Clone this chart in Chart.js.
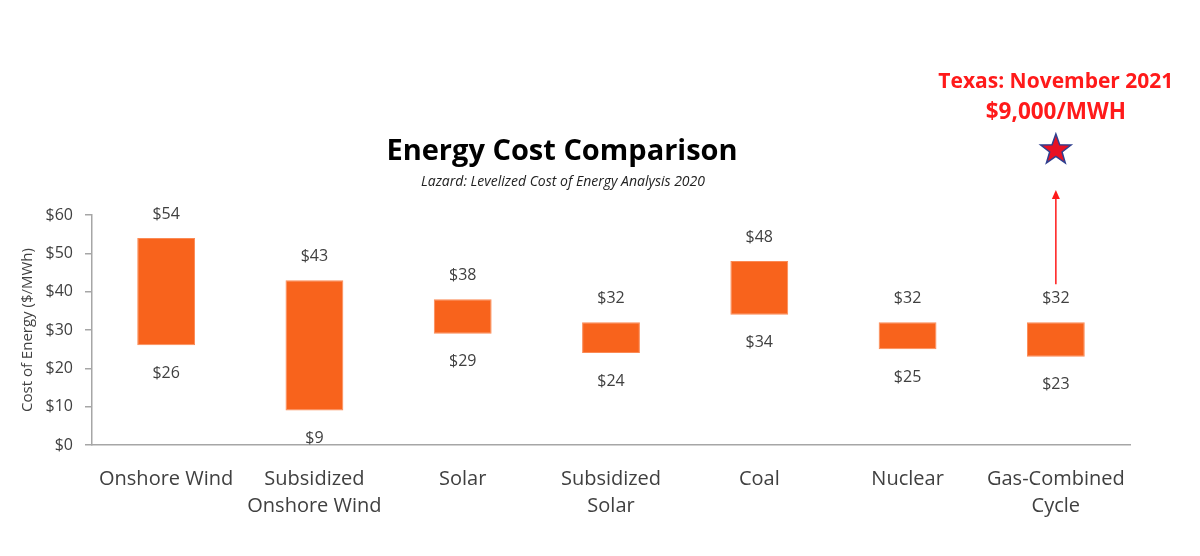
<!DOCTYPE html>
<html>
<head>
<meta charset="utf-8">
<script src="https://cdn.jsdelivr.net/npm/chart.js@4.4.1/dist/chart.umd.min.js"></script>
<style>
html,body{margin:0;padding:0;background:#fff;}
#wrap{width:1200px;height:556px;position:relative;}
</style>
</head>
<body>
<div id="wrap"><canvas id="c" width="1200" height="556"></canvas></div>
<script>
const categories = [
  "Onshore Wind",
  ["Subsidized", "Onshore Wind"],
  "Solar",
  ["Subsidized", "Solar"],
  "Coal",
  "Nuclear",
  ["Gas-Combined", "Cycle"]
];
const lowCost = [26, 9, 29, 24, 34, 25, 23];
const highCost = [54, 43, 38, 32, 48, 32, 32];
const yTicks = [0, 10, 20, 30, 40, 50, 60];
const titleText = "Energy Cost Comparison";
const subtitleText = "Lazard: Levelized Cost of Energy Analysis 2020";
const noteLines = ["Texas: November 2021", "$9,000/MWH"];
const noteCategoryIndex = 6;

const FONT = "'Open Sans', 'Noto Sans', sans-serif";
const TXT = '#404040';

const decorPlugin = {
  id: 'decor',
  afterDatasetsDraw(chart) {
    const ctx = chart.ctx;
    const meta = chart.getDatasetMeta(0);
    ctx.save();
    // value labels
    ctx.fillStyle = TXT;
    ctx.font = "16px " + FONT;
    ctx.textAlign = 'center';
    ctx.textBaseline = 'middle';
    meta.data.forEach((el, i) => {
      ctx.fillText('$' + highCost[i], el.x, el.y - 24);
      ctx.fillText('$' + lowCost[i], el.x, el.base + 28);
    });
    // title
    ctx.fillStyle = '#000';
    ctx.font = "bold 29px " + FONT;
    ctx.fillText(titleText, 562, 152);
    ctx.font = "italic 14px " + FONT;
    ctx.fillStyle = '#222';
    ctx.fillText(subtitleText, 563, 182);
    // note
    const nx = chart.scales.x.getPixelForValue(noteCategoryIndex);
    ctx.fillStyle = '#ff1a1a';
    ctx.font = "bold 21px " + FONT;
    ctx.fillText(noteLines[0], nx, 82);
    ctx.font = "bold 22.5px " + FONT;
    ctx.fillText(noteLines[1], nx, 113);
    // star
    const cx = nx, cy = 150, R = 16, r = 6.5;
    ctx.beginPath();
    for (let k = 0; k < 10; k++) {
      const rad = k % 2 === 0 ? R : r;
      const a = -Math.PI / 2 + k * Math.PI / 5;
      const px = cx + rad * Math.cos(a), py = cy + rad * Math.sin(a);
      if (k === 0) ctx.moveTo(px, py); else ctx.lineTo(px, py);
    }
    ctx.closePath();
    ctx.fillStyle = '#e81123';
    ctx.fill();
    ctx.strokeStyle = '#2f3f8f';
    ctx.lineWidth = 1.5;
    ctx.stroke();
    // arrow
    const el = meta.data[noteCategoryIndex];
    const yStart = el.y - 38, yEnd = 190;
    ctx.strokeStyle = '#ff1a1a';
    ctx.lineWidth = 1.5;
    ctx.beginPath();
    ctx.moveTo(nx, yStart);
    ctx.lineTo(nx, yEnd + 6);
    ctx.stroke();
    ctx.beginPath();
    ctx.moveTo(nx, yEnd);
    ctx.lineTo(nx - 4, yEnd + 9);
    ctx.lineTo(nx + 4, yEnd + 9);
    ctx.closePath();
    ctx.fillStyle = '#ff1a1a';
    ctx.fill();
    ctx.restore();
  }
};

new Chart(document.getElementById('c'), {
  type: 'bar',
  data: {
    labels: categories,
    datasets: [{
      data: categories.map((c, i) => [lowCost[i], highCost[i]]),
      backgroundColor: '#f8631c',
      borderColor: '#fb8a55',
      borderWidth: 1,
      borderSkipped: false,
      barPercentage: 0.39,
      categoryPercentage: 1.0
    }]
  },
  options: {
    responsive: false,
    animation: false,
    events: [],
    layout: { padding: { top: 215, right: 70, left: 0, bottom: 0 } },
    plugins: { legend: { display: false }, tooltip: { enabled: false }, title: { display: false } },
    scales: {
      x: {
        grid: { display: false },
        border: { display: true, color: '#a6a6a6', width: 1.5 },
        ticks: { color: TXT, font: { family: FONT, size: 20, lineHeight: 1.35 }, padding: 13, maxRotation: 0, autoSkip: false },
        afterFit(scale) { scale.height = 111; }
      },
      y: {
        min: 0, max: 60,
        afterBuildTicks(scale) { scale.ticks = yTicks.map(v => ({ value: v })); },
        grid: { drawOnChartArea: false, tickLength: 7, color: '#a6a6a6', lineWidth: 1.5 },
        border: { display: true, color: '#a6a6a6', width: 1.5 },
        ticks: { color: TXT, font: { family: FONT, size: 16 }, padding: 12, callback: v => '$' + v },
        title: { display: true, text: 'Cost of Energy ($/MWh)', color: TXT, font: { family: FONT, size: 15 }, padding: { top: 19, bottom: 0 } },
        afterFit(scale) { scale.width = 92; }
      }
    }
  },
  plugins: [decorPlugin]
});
</script>
</body>
</html>
